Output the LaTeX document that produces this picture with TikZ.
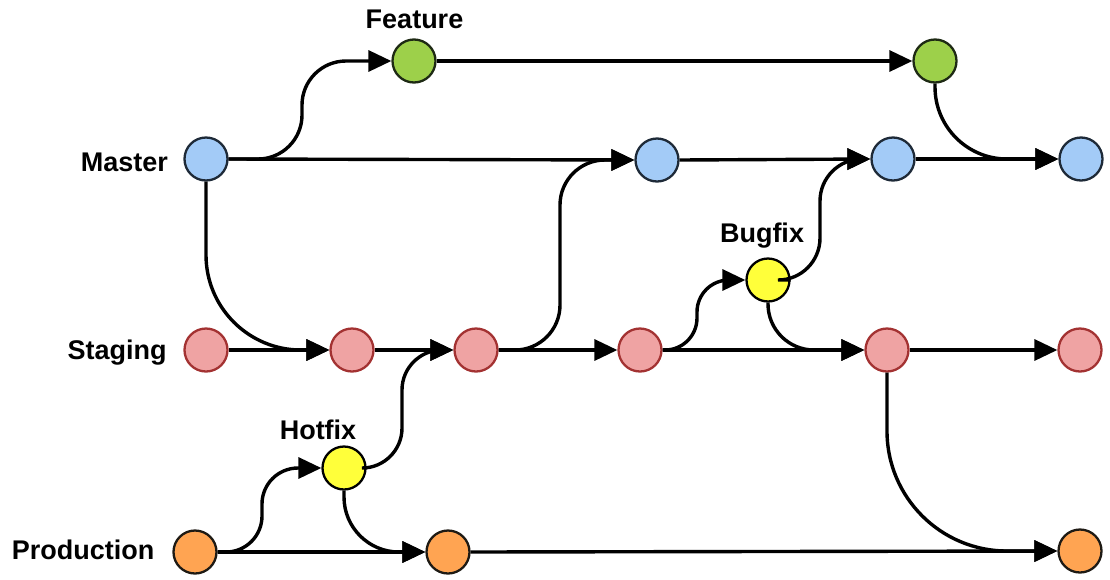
\documentclass[tikz,border=0pt]{standalone}
\usepackage{fontspec}
\setmainfont{Liberation Sans}
\usetikzlibrary{arrows.meta,calc}
\definecolor{bluef}{HTML}{A3CBF7}
\definecolor{blued}{HTML}{1E2A38}
\definecolor{greenf}{HTML}{9DD04A}
\definecolor{greend}{HTML}{1E2A14}
\definecolor{redf}{HTML}{EFA3A3}
\definecolor{redd}{HTML}{A33232}
\definecolor{yellowf}{HTML}{FFFF3A}
\definecolor{oranf}{HTML}{FFA452}
\definecolor{orand}{HTML}{1E1A14}
\begin{document}
\begin{tikzpicture}[x=1pt,y=-1pt,
  commit/.style={circle,minimum size=43pt,inner sep=0pt,line width=2.3pt},
  mnode/.style={commit,fill=bluef,draw=blued},
  fnode/.style={commit,fill=greenf,draw=greend},
  snode/.style={commit,fill=redf,draw=redd},
  ynode/.style={commit,fill=yellowf,draw=black},
  pnode/.style={commit,fill=oranf,draw=orand},
  lbl/.style={font=\bfseries\fontsize{27}{31}\selectfont,inner sep=0pt,anchor=base},
  edge/.style={line width=3.4pt,-{Triangle[length=23pt,width=21pt]}},
]
\useasboundingbox (0,0) rectangle (1110,579);
% labels
\node[lbl] (lmaster) at (124.5,171) {Master};
\node[lbl] (lstaging) at (117,359) {Staging};
\node[lbl] (lprod) at (83,559) {Production};
\node[lbl] (lfeature) at (414.5,28) {Feature};
\node[lbl] (lbugfix) at (762,242) {Bugfix};
\node[lbl] (lhotfix) at (318,439) {Hotfix};
% commits
\node[mnode] (m1) at (206,159) {};
\node[mnode] (m2) at (657,160) {};
\node[mnode] (m3) at (893,159) {};
\node[mnode] (m4) at (1081,159) {};
\node[fnode] (f1) at (414,61) {};
\node[fnode] (f2) at (935,61) {};
\node[snode] (s1) at (206,350) {};
\node[snode] (s2) at (352,350) {};
\node[snode] (s3) at (476,350) {};
\node[snode] (s4) at (640,350) {};
\node[snode] (s5) at (887,350) {};
\node[snode] (s6) at (1080,350) {};
\node[ynode] (h) at (344,468) {};
\node[ynode] (b) at (768,280) {};
\node[pnode] (p1) at (195,552) {};
\node[pnode] (p2) at (448,552) {};
\node[pnode] (p3) at (1080,551) {};
% x positions of the vertical parts of the S-shaped connectors
\coordinate (vx1) at (302,0);
\coordinate (vx2) at (262,0);
\coordinate (vx3) at (402,0);
\coordinate (vx4) at (560,0);
\coordinate (vx5) at (697,0);
\coordinate (vx6) at (820,0);
% straight connectors
\draw[edge] (m1.east) -- (m2.west);
\draw[edge] (m2.east) -- (m3.west);
\draw[edge] (m3.east) -- (m4.west);
\draw[edge] (f1.east) -- (f2.west);
\draw[edge] (s1.east) -- (s2.west);
\draw[edge] (s2.east) -- (s3.west);
\draw[edge] (s3.east) -- (s4.west);
\draw[edge] (s4.east) -- (s5.west);
\draw[edge] (s5.east) -- (s6.west);
\draw[edge] (p1.east) -- (p2.west);
\draw[edge] (p2.east) -- (p3.west);
% S-shaped connectors
\draw[edge,rounded corners=44pt] (m1.east) -- (m1.east -| vx1) -- (f1.west -| vx1) -- (f1.west);
\draw[edge,rounded corners=36pt] (p1.east) -- (p1.east -| vx2) -- (h.west -| vx2) -- (h.west);
\draw[edge,rounded corners=40pt] (h.east) -- (h.east -| vx3) -- (s3.west -| vx3) -- (s3.west);
\draw[edge,rounded corners=45pt] (s3.east) -- (s3.east -| vx4) -- (m2.west -| vx4) -- (m2.west);
\draw[edge,rounded corners=32pt] (s4.east) -- (s4.east -| vx5) -- (b.west -| vx5) -- (b.west);
\draw[edge,rounded corners=42pt] (b.east) -- (b.east -| vx6) -- (m3.west -| vx6) -- (m3.west);
% down-then-right connectors
\draw[edge,rounded corners=95pt] (m1.south) |- (s2.west);
\draw[edge,rounded corners=55pt] (h.south) |- (p2.west);
\draw[edge,rounded corners=46pt] (b.south) |- (s5.west);
\draw[edge,rounded corners=72pt] (f2.south) |- (m4.west);
\draw[edge,rounded corners=120pt] (s5.south) |- (p3.west);
\end{tikzpicture}
\end{document}
